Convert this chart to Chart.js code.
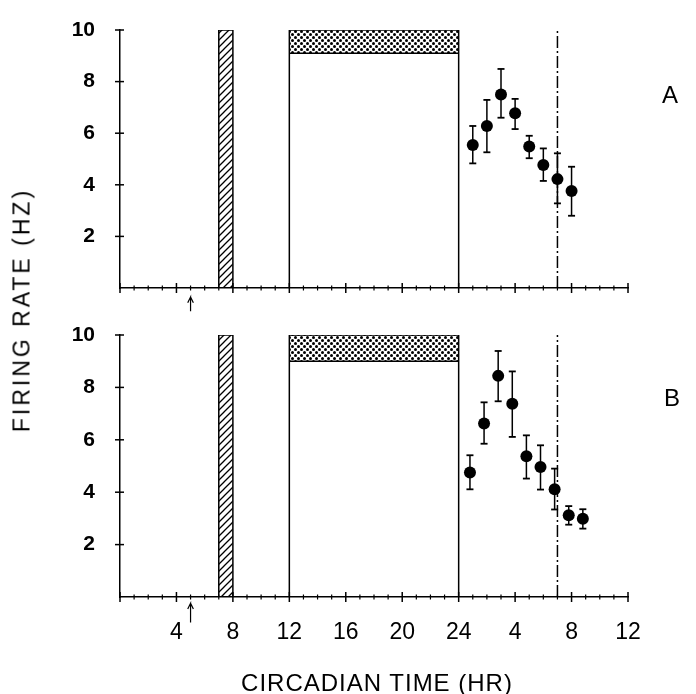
<!DOCTYPE html>
<html>
<head>
<meta charset="utf-8">
<script src="https://cdn.jsdelivr.net/npm/chart.js@4/dist/chart.umd.min.js"></script>
<style>
  body { margin: 0; background: #fff; }
  #wrap { position: relative; width: 696px; height: 694px; background: #fff; overflow: hidden; }
  canvas { position: absolute; left: 0; }
  #chartA { top: 0; }
  #chartB { top: 300px; }
  .txt { position: absolute; font-family: "Liberation Sans", sans-serif; color: #000; white-space: nowrap; }
  #ytitle { left: 22px; top: 310px; font-size: 23px; letter-spacing: 3px; transform: translate(-50%, -50%) rotate(-90deg); }
  #xtitle { left: 377px; top: 683px; font-size: 24px; letter-spacing: 1px; transform: translate(-50%, -50%); }
  #labA { left: 670px; top: 95px; font-size: 24px; transform: translate(-50%, -50%); }
  #labB { left: 672px; top: 398px; font-size: 24px; transform: translate(-50%, -50%); }
</style>
</head>
<body>
<div id="wrap">
  <canvas id="chartA" width="696" height="330"></canvas>
  <canvas id="chartB" width="696" height="394"></canvas>
  <div class="txt" id="ytitle">FIRING RATE (HZ)</div>
  <div class="txt" id="xtitle">CIRCADIAN TIME (HR)</div>
  <div class="txt" id="labA">A</div>
  <div class="txt" id="labB">B</div>
</div>
<script>
// x tick labels (circadian time wraps after 24)
const xTickValues = [4, 8, 12, 16, 20, 24, 28, 32, 36]
const xTickLabels = ['4', '8', '12', '16', '20', '24', '4', '8', '12']

// stimulus pulse, light box, stippled band, dashed marker, arrow
const pulse = [7, 8]
const lightBox = [12, 24]
const bandA = [9.1, 10]
const bandB = [9.0, 10]
const markerHour = 31
const arrowHour = 5

// panel A
const hoursA = [25, 26, 27, 28, 29, 30, 31, 32]
const rateA = [5.54, 6.28, 7.5, 6.77, 5.48, 4.77, 4.22, 3.76]
const upperA = [6.28, 7.29, 8.49, 7.33, 5.9, 5.41, 5.22, 4.7]
const lowerA = [4.83, 5.26, 6.6, 6.16, 5.03, 4.15, 3.28, 2.8]

// panel B
const hoursB = [24.8, 25.8, 26.8, 27.8, 28.8, 29.8, 30.8, 31.8, 32.8]
const rateB = [4.75, 6.62, 8.44, 7.38, 5.37, 4.96, 4.11, 3.12, 2.99]
const upperB = [5.41, 7.43, 9.39, 8.61, 6.17, 5.79, 4.9, 3.47, 3.35]
const lowerB = [4.11, 5.85, 7.47, 6.11, 4.52, 4.1, 3.34, 2.76, 2.61]

function hatchPattern() {
  const c = document.createElement('canvas')
  c.width = 7; c.height = 7
  const g = c.getContext('2d')
  g.strokeStyle = '#000'
  g.lineWidth = 1.3
  g.beginPath()
  g.moveTo(-1, 8); g.lineTo(8, -1)
  g.moveTo(-1, 1); g.lineTo(1, -1)
  g.moveTo(6, 8); g.lineTo(8, 6)
  g.stroke()
  return g.createPattern(c, 'repeat')
}

function stipplePattern() {
  const c = document.createElement('canvas')
  c.width = 6; c.height = 6
  const g = c.getContext('2d')
  g.fillStyle = '#fff'
  g.fillRect(0, 0, 6, 6)
  g.fillStyle = '#000'
  ;[[1.5, 1.5], [4.5, 4.5]].forEach(([x, y]) => {
    g.beginPath(); g.arc(x, y, 1.5, 0, Math.PI * 2); g.fill()
  })
  return g.createPattern(c, 'repeat')
}

// draws the tick marks across both axes
const crossTicks = {
  id: 'crossTicks',
  afterDatasetsDraw(chart) {
    const ctx = chart.ctx
    const xs = chart.scales.x, ys = chart.scales.y
    ctx.save()
    ctx.strokeStyle = '#000'
    xs.ticks.forEach(t => {
      const px = xs.getPixelForValue(t.value)
      const major = t.value % 4 === 0
      const len = major ? 5 : 2.5
      ctx.lineWidth = major ? 1.5 : 1.2
      ctx.beginPath()
      ctx.moveTo(px, xs.top - len)
      ctx.lineTo(px, xs.top + len)
      ctx.stroke()
    })
    ys.ticks.forEach(t => {
      if (t.value === 0) return
      const py = ys.getPixelForValue(t.value)
      ctx.lineWidth = 1.5
      ctx.beginPath()
      ctx.moveTo(ys.right - 5, py)
      ctx.lineTo(ys.right + 4, py)
      ctx.stroke()
    })
    ctx.restore()
  }
}

function errorData(hours, lower, upper) {
  const out = []
  hours.forEach((h, i) => {
    out.push({ x: h, y: lower[i] }, { x: h, y: upper[i] }, { x: h, y: null })
  })
  return out
}

// small open arrow under the axis: shaft plus two barbs
function arrowData(bottom, tip, barbX, barbY) {
  return [
    { x: arrowHour, y: bottom }, { x: arrowHour, y: tip }, { x: arrowHour - barbX, y: tip - barbY },
    { x: arrowHour, y: null },
    { x: arrowHour, y: tip }, { x: arrowHour + barbX, y: tip - barbY }
  ]
}

function makeChart(id, opts) {
  const { hours, rate, upper, lower, band, arrow, showLabels, padTop, xHeight } = opts
  return new Chart(document.getElementById(id).getContext('2d'), {
    type: 'scatter',
    data: {
      datasets: [
        {
          data: [{ x: pulse[0], y: 0 }, { x: pulse[0], y: 10 }, { x: pulse[1], y: 10 }, { x: pulse[1], y: 0 }],
          showLine: true, pointRadius: 0, borderColor: '#000', borderWidth: 1.5,
          fill: 'origin', backgroundColor: hatchPattern(), tension: 0
        },
        {
          data: [{ x: lightBox[0], y: 0 }, { x: lightBox[0], y: 10 }, { x: lightBox[1], y: 10 }, { x: lightBox[1], y: 0 }],
          showLine: true, pointRadius: 0, borderColor: '#000', borderWidth: 1.5, fill: false
        },
        {
          data: [{ x: lightBox[0], y: band[0] }, { x: lightBox[1], y: band[0] }],
          showLine: true, pointRadius: 0, borderColor: '#000', borderWidth: 1.5,
          fill: { value: band[1] }, backgroundColor: stipplePattern()
        },
        {
          data: [{ x: markerHour, y: 0 }, { x: markerHour, y: 10 }],
          showLine: true, pointRadius: 0, borderColor: '#000', borderWidth: 1.5,
          borderDash: [12, 3, 2, 3]
        },
        {
          data: errorData(hours, lower, upper),
          showLine: true, spanGaps: false, borderColor: '#000', borderWidth: 1.5,
          pointStyle: 'line', pointRadius: 3.5, pointBorderWidth: 1.8, pointBorderColor: '#000'
        },
        {
          data: hours.map((h, i) => ({ x: h, y: rate[i] })),
          pointRadius: 6, pointBackgroundColor: '#000', pointBorderColor: '#000', pointBorderWidth: 0
        },
        {
          data: arrowData(...arrow),
          showLine: true, spanGaps: false, clip: false, pointRadius: 0,
          borderColor: '#000', borderWidth: 1.2
        }
      ]
    },
    options: {
      responsive: false,
      animation: false,
      events: [],
      layout: { padding: { left: 0, right: 68, top: padTop, bottom: 0 } },
      plugins: { legend: { display: false }, tooltip: { enabled: false } },
      scales: {
        x: {
          type: 'linear', min: 0, max: 36,
          afterFit: s => { s.height = xHeight },
          grid: { display: false },
          border: { display: true, color: '#000', width: 1.5 },
          ticks: {
            stepSize: 1, autoSkip: false, maxRotation: 0, padding: 14,
            color: '#000',
            font: { family: 'Liberation Sans', size: 23 },
            callback: v => {
              if (!showLabels) return ''
              const i = xTickValues.indexOf(v)
              return i >= 0 ? xTickLabels[i] : ''
            }
          }
        },
        y: {
          min: 0, max: 10,
          afterFit: s => { s.width = 120 },
          grid: { display: false },
          border: { display: true, color: '#000', width: 1.5 },
          ticks: {
            stepSize: 2, padding: 17, color: '#000',
            font: { family: 'Liberation Sans', size: 21, weight: 'bold' },
            callback: v => (v === 0 ? '' : String(v))
          }
        }
      }
    },
    plugins: [crossTicks]
  })
}

makeChart('chartA', {
  hours: hoursA, rate: rateA, upper: upperA, lower: lowerA, band: bandA,
  arrow: [-0.9, -0.35, 0.2, 0.22], showLabels: false, padTop: 30, xHeight: 42
})
makeChart('chartB', {
  hours: hoursB, rate: rateB, upper: upperB, lower: lowerB, band: bandB,
  arrow: [-0.97, -0.24, 0.2, 0.22], showLabels: true, padTop: 35, xHeight: 97
})
</script>
</body>
</html>
